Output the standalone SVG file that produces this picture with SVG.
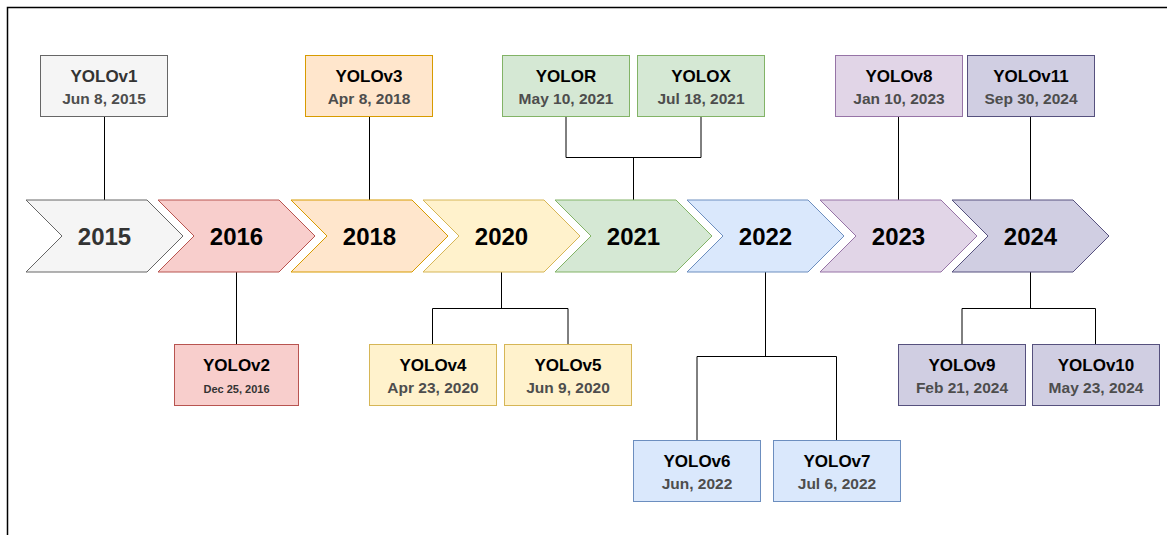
<svg xmlns="http://www.w3.org/2000/svg" width="1167" height="535" viewBox="0 0 1167 535">
<style>
  .yr { font-family: "Liberation Sans", Arial, sans-serif; font-weight: bold; font-size: 24px; text-anchor: middle; fill: #000; }
  .t { font-family: "Liberation Sans", Arial, sans-serif; font-weight: bold; font-size: 17px; text-anchor: middle; fill: #000; }
  .d { font-family: "Liberation Sans", Arial, sans-serif; font-weight: bold; font-size: 15.5px; text-anchor: middle; fill: #4d4d4d; }
  .ds { font-family: "Liberation Sans", Arial, sans-serif; font-weight: bold; font-size: 11px; text-anchor: middle; fill: #333; }
  .c { fill: none; stroke: #000; stroke-width: 1; }
  .gray { fill: #f5f5f5; stroke: #666666; }
  .red { fill: #f8cecc; stroke: #b85450; }
  .orange { fill: #ffe6cc; stroke: #d79b00; }
  .yellow { fill: #fff2cc; stroke: #d6b656; }
  .green { fill: #d5e8d4; stroke: #82b366; }
  .blue { fill: #dae8fc; stroke: #6c8ebf; }
  .purple { fill: #e1d5e7; stroke: #9673a6; }
  .navy { fill: #d0cee2; stroke: #56517e; }
</style>
<rect x="0" y="0" width="1167" height="535" fill="#fff"/>
<path d="M7.5 535 V7.5 H1167" fill="none" stroke="#000" stroke-width="1.5"/>

<g id="connectors" class="c">
  <path d="M104.5 116 V200"/>
  <path d="M369.5 116 V200"/>
  <path d="M566 116 V157.5 H701 V116 M633.5 157.5 V200"/>
  <path d="M898.5 116 V200"/>
  <path d="M1030.5 116 V200"/>
  <path d="M236.5 272 V344"/>
  <path d="M501.5 272 V308.5 M432.5 344 V308.5 H568 V344"/>
  <path d="M765.5 272 V356.5 M697 440 V356.5 H836.5 V440"/>
  <path d="M1030.5 272 V308.5 M962 344 V308.5 H1095.5 V344"/>
</g>

<g id="y2015"><path class="gray" d="M26 200 H147 L183 236 L147 272 H26 L62 236 Z"/><text class="yr" x="104.5" y="245" style="fill:#333">2015</text></g>
<g id="y2016"><path class="red" d="M158 200 H279 L315 236 L279 272 H158 L194 236 Z"/><text class="yr" x="236.5" y="245">2016</text></g>
<g id="y2018"><path class="orange" d="M291 200 H412 L448 236 L412 272 H291 L327 236 Z"/><text class="yr" x="369.5" y="245">2018</text></g>
<g id="y2020"><path class="yellow" d="M423 200 H544 L580 236 L544 272 H423 L459 236 Z"/><text class="yr" x="501.5" y="245">2020</text></g>
<g id="y2021"><path class="green" d="M555 200 H676 L712 236 L676 272 H555 L591 236 Z"/><text class="yr" x="633.5" y="245">2021</text></g>
<g id="y2022"><path class="blue" d="M687 200 H808 L844 236 L808 272 H687 L723 236 Z"/><text class="yr" x="765.5" y="245">2022</text></g>
<g id="y2023"><path class="purple" d="M820 200 H941 L977 236 L941 272 H820 L856 236 Z"/><text class="yr" x="898.5" y="245">2023</text></g>
<g id="y2024"><path class="navy" d="M952 200 H1073 L1109 236 L1073 272 H952 L988 236 Z"/><text class="yr" x="1030.5" y="245">2024</text></g>

<g id="yolov1"><rect class="gray" x="40.5" y="55.5" width="127" height="61"/><text class="t" x="104" y="82" style="fill:#333">YOLOv1</text><text class="d" x="104" y="104">Jun 8, 2015</text></g>
<g id="yolov3"><rect class="orange" x="305.5" y="55.5" width="127" height="61"/><text class="t" x="369" y="82">YOLOv3</text><text class="d" x="369" y="104">Apr 8, 2018</text></g>
<g id="yolor"><rect class="green" x="502.5" y="55.5" width="127" height="61"/><text class="t" x="566" y="82">YOLOR</text><text class="d" x="566" y="104">May 10, 2021</text></g>
<g id="yolox"><rect class="green" x="637.5" y="55.5" width="127" height="61"/><text class="t" x="701" y="82">YOLOX</text><text class="d" x="701" y="104">Jul 18, 2021</text></g>
<g id="yolov8"><rect class="purple" x="835.5" y="55.5" width="127" height="61"/><text class="t" x="899" y="82">YOLOv8</text><text class="d" x="899" y="104">Jan 10, 2023</text></g>
<g id="yolov11"><rect class="navy" x="967.5" y="55.5" width="127" height="61"/><text class="t" x="1031" y="82">YOLOv11</text><text class="d" x="1031" y="104">Sep 30, 2024</text></g>

<g id="yolov2"><rect class="red" x="174.5" y="344.5" width="124" height="61"/><text class="t" x="236.5" y="371">YOLOv2</text><text class="ds" x="236.5" y="393">Dec 25, 2016</text></g>
<g id="yolov4"><rect class="yellow" x="369.5" y="344.5" width="127" height="61"/><text class="t" x="433" y="371">YOLOv4</text><text class="d" x="433" y="393">Apr 23, 2020</text></g>
<g id="yolov5"><rect class="yellow" x="504.5" y="344.5" width="127" height="61"/><text class="t" x="568" y="371">YOLOv5</text><text class="d" x="568" y="393">Jun 9, 2020</text></g>
<g id="yolov6"><rect class="blue" x="633.5" y="440.5" width="127" height="61"/><text class="t" x="697" y="467">YOLOv6</text><text class="d" x="697" y="489">Jun, 2022</text></g>
<g id="yolov7"><rect class="blue" x="773.5" y="440.5" width="127" height="61"/><text class="t" x="837" y="467">YOLOv7</text><text class="d" x="837" y="489">Jul 6, 2022</text></g>
<g id="yolov9"><rect class="navy" x="898.5" y="344.5" width="127" height="61"/><text class="t" x="962" y="371">YOLOv9</text><text class="d" x="962" y="393">Feb 21, 2024</text></g>
<g id="yolov10"><rect class="navy" x="1032.5" y="344.5" width="127" height="61"/><text class="t" x="1096" y="371">YOLOv10</text><text class="d" x="1096" y="393">May 23, 2024</text></g>
</svg>
